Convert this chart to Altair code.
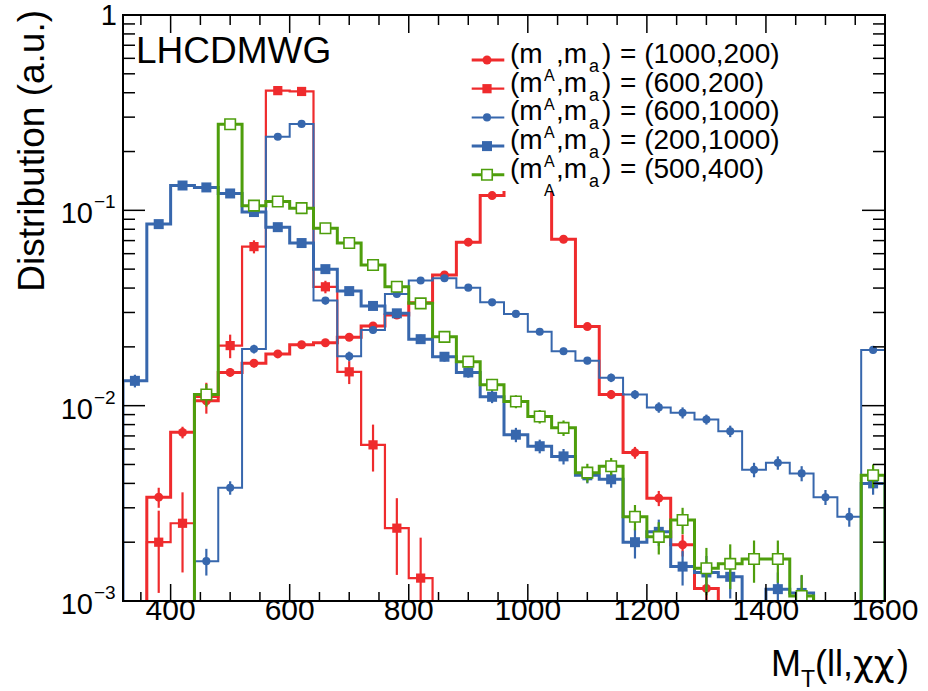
import altair as alt
import pandas as pd

# ---------------- data ----------------
BIN_W = 40
bin_low = list(range(320, 1600, BIN_W))  # 32 bins, 320..1600

red_circ = [0, 0.0034, 0.0073, 0.0106, 0.0148, 0.0165, 0.0184, 0.0205, 0.0210, 0.0224,
            0.0256, 0.0291, 0.0336, 0.0467, 0.0687, 0.119, 0.150, 0.160, 0.0711, 0.0254,
            0.0114, 0.00575, 0.00336, 0.00194, 0.00116, 0, 0, 0, 0, 0, 0, 0]
red_circ_err = [0, 0.0004, 0.0005, 0.0006, 0.0007, 0.0008, 0.0008, 0.0009, 0.0009, 0.0009,
                0.001, 0.001, 0.0011, 0.0013, 0.0016, 0.002, 0.0023, 0.0024, 0.0016, 0.0009,
                0.0006, 0.0004, 0.0003, 0.00025, 0.0002, 0, 0, 0, 0, 0, 0, 0]

red_sq = [0, 0.0020, 0.0025, 0.0111, 0.0203, 0.0652, 0.410, 0.406, 0.0406, 0.0149,
          0.0063, 0.00236, 0.00131, 0, 0, 0, 0, 0, 0, 0,
          0, 0, 0, 0, 0, 0, 0, 0, 0, 0, 0, 0]
red_sq_err = [0, 0.0009, 0.0011, 0.002, 0.0028, 0.005, 0.01, 0.01, 0.003, 0.002,
              0.0017, 0.001, 0.0008, 0, 0, 0, 0, 0, 0, 0,
              0, 0, 0, 0, 0, 0, 0, 0, 0, 0, 0, 0]

blue_circ = [0, 0, 0, 0.0016, 0.0038, 0.0195, 0.238, 0.277, 0.0345, 0.0179,
             0.0244, 0.0373, 0.0437, 0.0449, 0.0402, 0.0338, 0.0295, 0.0239, 0.0190, 0.0170,
             0.0139, 0.0114, 0.0098, 0.0092, 0.0085, 0.0074, 0.0047, 0.0051, 0.0045, 0.0034,
             0.0027, 0.0193]
blue_circ_err = [0, 0, 0, 0.00025, 0.0003, 0.001, 0.006, 0.006, 0.0015, 0.001,
                 0.001, 0.0012, 0.0012, 0.0012, 0.0012, 0.001, 0.001, 0.0009, 0.0008, 0.0007,
                 0.0007, 0.0006, 0.0006, 0.0006, 0.0005, 0.0005, 0.0004, 0.0004, 0.0004, 0.0003,
                 0.0003, 0.0008]

blue_sq = [0.0134, 0.085, 0.134, 0.131, 0.122, 0.098, 0.082, 0.068, 0.050, 0.0386,
           0.0324, 0.0297, 0.0219, 0.0178, 0.0148, 0.0111, 0.0071, 0.0062, 0.0055, 0.0044,
           0.0042, 0.0020, 0.00226, 0.0015, 0.0014, 0.00133, 0, 0.00115, 0.0011, 0,
           0, 0.0040]
blue_sq_err = [0.001, 0.002, 0.003, 0.003, 0.003, 0.0025, 0.0025, 0.002, 0.0018, 0.0015,
               0.0014, 0.0013, 0.0012, 0.001, 0.0009, 0.0008, 0.0006, 0.0005, 0.0005, 0.0004,
               0.0004, 0.00035, 0.00035, 0.0003, 0.0003, 0.0003, 0, 0.00025, 0.00025, 0,
               0, 0.0005]

green = [0, 0, 0, 0.0114, 0.276, 0.1057, 0.111, 0.1026, 0.0809, 0.068,
         0.0525, 0.0406, 0.0334, 0.0225, 0.0168, 0.0128, 0.0105, 0.0088, 0.0077, 0.00454,
         0.0049, 0.0027, 0.00213, 0.0026, 0.00147, 0.00155, 0.00164, 0.00164, 0.00106, 0,
         0, 0.0044]
green_err = [0, 0, 0, 0.0015, 0.006, 0.003, 0.003, 0.003, 0.0025, 0.002,
             0.002, 0.0017, 0.0015, 0.0012, 0.001, 0.0009, 0.0008, 0.0007, 0.0007, 0.0005,
             0.0005, 0.0004, 0.0004, 0.0004, 0.0004, 0.0004, 0.0004, 0.0004, 0.0003, 0,
             0, 0.0006]

legend_labels = ["(1000,200)", "(600,200)", "(600,1000)", "(200,1000)", "(500,400)"]

x_major = [400, 600, 800, 1000, 1200, 1400, 1600]
x_minor = [v for v in range(350, 1600, 50) if v not in x_major]
y_major = [0.001, 0.01, 0.1, 1.0]
y_minor = [m * d for d in (0.001, 0.01, 0.1) for m in range(2, 10)]
y_label_vals = [0.001, 0.01, 0.1]
y_label_sup = ["\u22123", "\u22122", "\u22121"]

# ---------------- style ----------------
FONT = "Liberation Sans"
RED = "#ef2b2d"
BLUE = "#3767ad"
GREEN = "#4e9e0c"
W, H = 762, 586
FLOOR = 1e-5

XS = alt.Scale(domain=[320, 1600], nice=False, zero=False)
YS = alt.Scale(type="log", domain=[1e-3, 1], nice=False)


def X(f):
    return alt.X(f, type="quantitative", scale=XS, axis=None)


def Y(f):
    return alt.Y(f, type="quantitative", scale=YS, axis=None)


series = [
    dict(vals=red_circ, err=red_circ_err, color=RED, lw=3.0, shape="circle", size=80, filled=True),
    dict(vals=red_sq, err=red_sq_err, color=RED, lw=2.2, shape="square", size=85, filled=True),
    dict(vals=blue_circ, err=blue_circ_err, color=BLUE, lw=2.0, shape="circle", size=65, filled=True),
    dict(vals=blue_sq, err=blue_sq_err, color=BLUE, lw=3.0, shape="square", size=100, filled=True),
    dict(vals=green, err=green_err, color=GREEN, lw=3.0, shape="square", size=110, filled=False),
]

layers = []
for s in series:
    # step outline
    rows = [dict(x=bin_low[0], y=FLOOR)]
    for lo, v in zip(bin_low, s["vals"]):
        yv = v if v > 0 else FLOOR
        rows.append(dict(x=lo, y=yv))
        rows.append(dict(x=lo + BIN_W, y=yv))
    rows.append(dict(x=bin_low[-1] + BIN_W, y=FLOOR))
    for i, r in enumerate(rows):
        r["o"] = i
    sdf = pd.DataFrame(rows)
    layers.append(
        alt.Chart(sdf).mark_line(clip=True, color=s["color"], strokeWidth=s["lw"],
                                 strokeJoin="miter")
        .encode(x=X("x"), y=Y("y"), order=alt.Order("o:Q"))
    )
    # points with error bars
    prow = []
    for lo, v, e in zip(bin_low, s["vals"], s["err"]):
        if v > 0:
            prow.append(dict(c=lo + BIN_W / 2, v=v, lo=max(v - e, FLOOR), hi=v + e))
    pdf = pd.DataFrame(prow)
    layers.append(
        alt.Chart(pdf).mark_rule(clip=True, color=s["color"], strokeWidth=2.2)
        .encode(x=X("c"), y=Y("lo"), y2="hi")
    )
    if s["filled"]:
        pt = alt.Chart(pdf).mark_point(clip=True, shape=s["shape"], size=s["size"], filled=True,
                                       color=s["color"], opacity=1)
    else:
        pt = alt.Chart(pdf).mark_point(clip=True, shape=s["shape"], size=s["size"], filled=False,
                                       color=s["color"], fill="white", fillOpacity=1,
                                       strokeWidth=1.6, opacity=1)
    layers.append(pt.encode(x=X("c"), y=Y("v")))

one = pd.DataFrame({"k": [0]})

# ---------------- frame & ticks ----------------
xmaj = pd.DataFrame({"t": x_major})
xmin = pd.DataFrame({"t": x_minor})
ymaj = pd.DataFrame({"t": y_major})
ymin = pd.DataFrame({"t": y_minor})
TK = dict(color="black", strokeWidth=1.5)
layers += [
    alt.Chart(xmaj).mark_rule(**TK).encode(x=X("t"), y=alt.value(H), y2=alt.value(H - 17)),
    alt.Chart(xmin).mark_rule(**TK).encode(x=X("t"), y=alt.value(H), y2=alt.value(H - 9)),
    alt.Chart(xmaj).mark_rule(**TK).encode(x=X("t"), y=alt.value(0), y2=alt.value(18)),
    alt.Chart(xmin).mark_rule(**TK).encode(x=X("t"), y=alt.value(0), y2=alt.value(10)),
    alt.Chart(ymaj).mark_rule(**TK).encode(y=Y("t"), x=alt.value(0), x2=alt.value(22)),
    alt.Chart(ymin).mark_rule(**TK).encode(y=Y("t"), x=alt.value(0), x2=alt.value(12)),
    alt.Chart(ymaj).mark_rule(**TK).encode(y=Y("t"), x=alt.value(W), x2=alt.value(W - 23)),
    alt.Chart(ymin).mark_rule(**TK).encode(y=Y("t"), x=alt.value(W), x2=alt.value(W - 12)),
    alt.Chart(one).mark_rect(fillOpacity=0, stroke="black", strokeWidth=2).encode(
        x=alt.value(0), x2=alt.value(W), y=alt.value(0), y2=alt.value(H)),
]

# ---------------- axis labels ----------------
layers.append(
    alt.Chart(xmaj).mark_text(font=FONT, fontSize=30, align="center", baseline="alphabetic")
    .encode(x=X("t"), y=alt.value(H + 19), text=alt.Text("t:Q", format="d"))
)
ylab = pd.DataFrame({"t": y_label_vals, "s": y_label_sup, "b": ["10"] * 3})
layers.append(
    alt.Chart(ylab).mark_text(font=FONT, fontSize=29, align="right", baseline="alphabetic", dy=13)
    .encode(y=Y("t"), x=alt.value(-30), text="b:N")
)
layers.append(
    alt.Chart(ylab).mark_text(font=FONT, fontSize=19, align="left", baseline="alphabetic", dy=-2)
    .encode(y=Y("t"), x=alt.value(-29), text="s:N")
)
layers.append(
    alt.Chart(pd.DataFrame({"t": [1.0]})).mark_text(font=FONT, fontSize=29, align="right",
                                                    baseline="alphabetic", dy=10)
    .encode(y=Y("t"), x=alt.value(-6), text=alt.value("1"))
)
# y title
layers.append(
    alt.Chart(one).mark_text(font=FONT, fontSize=37, align="right", baseline="alphabetic", angle=270)
    .encode(x=alt.value(-79), y=alt.value(-5), text=alt.value("Distribution (a.u.)"))
)
# x title
layers += [
    alt.Chart(one).mark_text(font=FONT, fontSize=36, align="left", baseline="alphabetic")
    .encode(x=alt.value(648), y=alt.value(661), text=alt.value("M")),
    alt.Chart(one).mark_text(font=FONT, fontSize=23, align="left", baseline="alphabetic")
    .encode(x=alt.value(678), y=alt.value(672), text=alt.value("T")),
    alt.Chart(one).mark_text(font=FONT, fontSize=36, align="left", baseline="alphabetic")
    .encode(x=alt.value(692), y=alt.value(661), text=alt.value("(ll,")),
    alt.Chart(one).mark_text(font="DejaVu Sans", fontSize=36, align="left", baseline="alphabetic")
    .encode(x=alt.value(730), y=alt.value(661), text=alt.value("\u03c7\u03c7")),
    alt.Chart(one).mark_text(font=FONT, fontSize=36, align="left", baseline="alphabetic")
    .encode(x=alt.value(774), y=alt.value(661), text=alt.value(")")),
]

# LHCDMWG label
layers.append(
    alt.Chart(one).mark_text(font=FONT, fontSize=37, align="left", baseline="alphabetic")
    .encode(x=alt.value(13), y=alt.value(48), text=alt.value("LHCDMWG"))
)

# ---------------- legend ----------------
layers.append(
    alt.Chart(one).mark_rect(fill="white", stroke=None).encode(
        x=alt.value(342), x2=alt.value(682), y=alt.value(20), y2=alt.value(176))
)
LEG_FS = 28
for i, (s, lab) in enumerate(zip(series, legend_labels)):
    yb = 48 + 28.7 * i
    ys = yb - 3
    layers.append(
        alt.Chart(one).mark_rule(color=s["color"], strokeWidth=s["lw"]).encode(
            x=alt.value(348.7), x2=alt.value(381.3), y=alt.value(ys))
    )
    if s["filled"]:
        mk = alt.Chart(one).mark_point(shape=s["shape"], size=s["size"], filled=True,
                                       color=s["color"], opacity=1)
    else:
        mk = alt.Chart(one).mark_point(shape=s["shape"], size=s["size"], filled=False,
                                       color=s["color"], fill="white", fillOpacity=1,
                                       strokeWidth=1.6, opacity=1)
    layers.append(mk.encode(x=alt.value(364), y=alt.value(ys)))
    pieces = [
        (387, yb, LEG_FS, "(m"),
        (421, yb + 18, 16, "A"),
        (433, yb, LEG_FS, ",m"),
        (466, yb + 9, 18, "a"),
        (479, yb, LEG_FS, ")"),
        (497, yb, LEG_FS, "= " + lab),
    ]
    for px, py, fs, t in pieces:
        layers.append(
            alt.Chart(one).mark_text(font=FONT, fontSize=fs, align="left", baseline="alphabetic")
            .encode(x=alt.value(px), y=alt.value(py), text=alt.value(t))
        )

chart = (
    alt.layer(*layers)
    .properties(width=W, height=H,
                padding={"left": 123, "top": 15, "right": 43, "bottom": 90},
                autosize=alt.AutoSizeParams(type="none"),
                background="white")
    .configure_view(stroke=None)
)

chart.save("out.html", embed_options={"renderer": "svg", "actions": False})
